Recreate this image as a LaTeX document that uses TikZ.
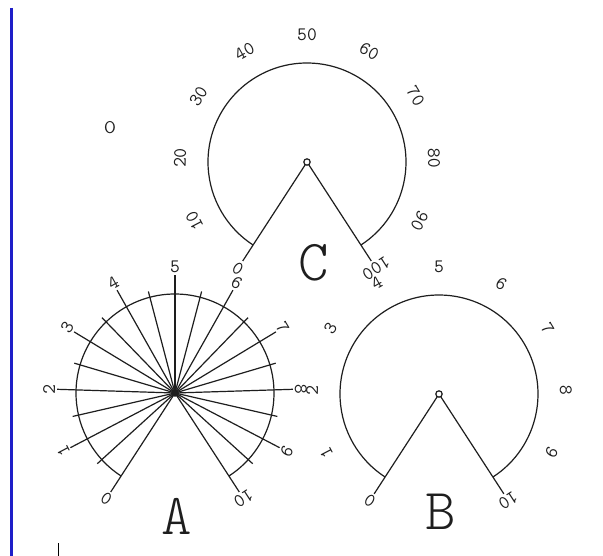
\documentclass[tikz,border=0pt]{standalone}
\definecolor{inkc}{RGB}{30,30,30}
\definecolor{barblue}{RGB}{30,30,200}
\newcommand\dialfont{\ttfamily\fontsize{19}{19}\selectfont}
\newcommand\capfont{\fontseries{l}\ttfamily\fontsize{58}{58}\selectfont}
\tikzset{
  ink/.style={draw=inkc, line width=1.2pt},
  dlab/.style={inner sep=0pt, anchor=center, text=inkc, font=\dialfont},
  bigcap/.style={inner sep=0pt, anchor=center, text=inkc, font=\capfont},
  hub/.style={draw=inkc, line width=1.2pt, fill=white},
}
\begin{document}
\begin{tikzpicture}[x=1pt,y=-1pt]
\useasboundingbox (0,0) rectangle (603,556);
\fill[white] (0,0) rectangle (603,556);
% left blue bar and small tick
\draw[barblue, line width=3.5pt] (11.7,8) -- (11.7,556);
\draw[black, line width=1pt] (58,543) -- (58,556);
% letter O
\node[dlab, font=\sffamily\fontsize{17}{17}\selectfont] (ol) at (110,128) {O};

% ---------- dial C ----------
\begin{scope}[shift={(307,162)}, y=1pt]
  \draw[ink] (-57:99) arc[start angle=-57, end angle=237, radius=99];
  \draw[ink] (0,0) -- (237:118);
  \draw[ink] (0,0) -- (-57:118);
  \draw[hub] (0,0) circle[radius=3.2];
  \foreach \i in {0,...,10} {
    \pgfmathsetmacro\a{237-29.4*\i}
    \pgfmathtruncatemacro\v{10*\i}
    \node[dlab, rotate=\a-90] (C\i) at (\a:127) {\v};
  }
\end{scope}
\node[bigcap] (capC) at (314,263) {C};

% ---------- dial B ----------
\begin{scope}[shift={(439,394)}, y=1pt]
  \draw[ink] (-57:99) arc[start angle=-57, end angle=237, radius=99];
  \draw[ink] (0,0) -- (237:119);
  \draw[ink] (0,0) -- (-57:119);
  \draw[hub] (0,0) circle[radius=3.2];
  \foreach \i in {0,...,10} {
    \pgfmathsetmacro\a{237-29.4*\i}
    \node[dlab, rotate=\a-90] (B\i) at (\a:127) {\i};
  }
\end{scope}
\node[bigcap] (capB) at (441,512) {B};

% ---------- dial A ----------
\begin{scope}[shift={(175,393)}, y=1pt]
  \draw[ink] (-57:99) arc[start angle=-57, end angle=237, radius=99];
  \foreach \i in {0,...,10} {
    \pgfmathsetmacro\a{237-29.4*\i}
    \draw[ink] (0,0) -- (\a:118);
    \node[dlab, rotate=\a-90] (A\i) at (\a:126) {\i};
  }
  \foreach \i in {0,...,9} {
    \pgfmathsetmacro\a{237-29.4*(\i+0.5)}
    \draw[ink] (0,0) -- (\a:105);
  }
  \fill[inkc] (0,0) circle[radius=3.8];
\end{scope}
\node[bigcap] (capA) at (177,516) {A};
\end{tikzpicture}
\end{document}
